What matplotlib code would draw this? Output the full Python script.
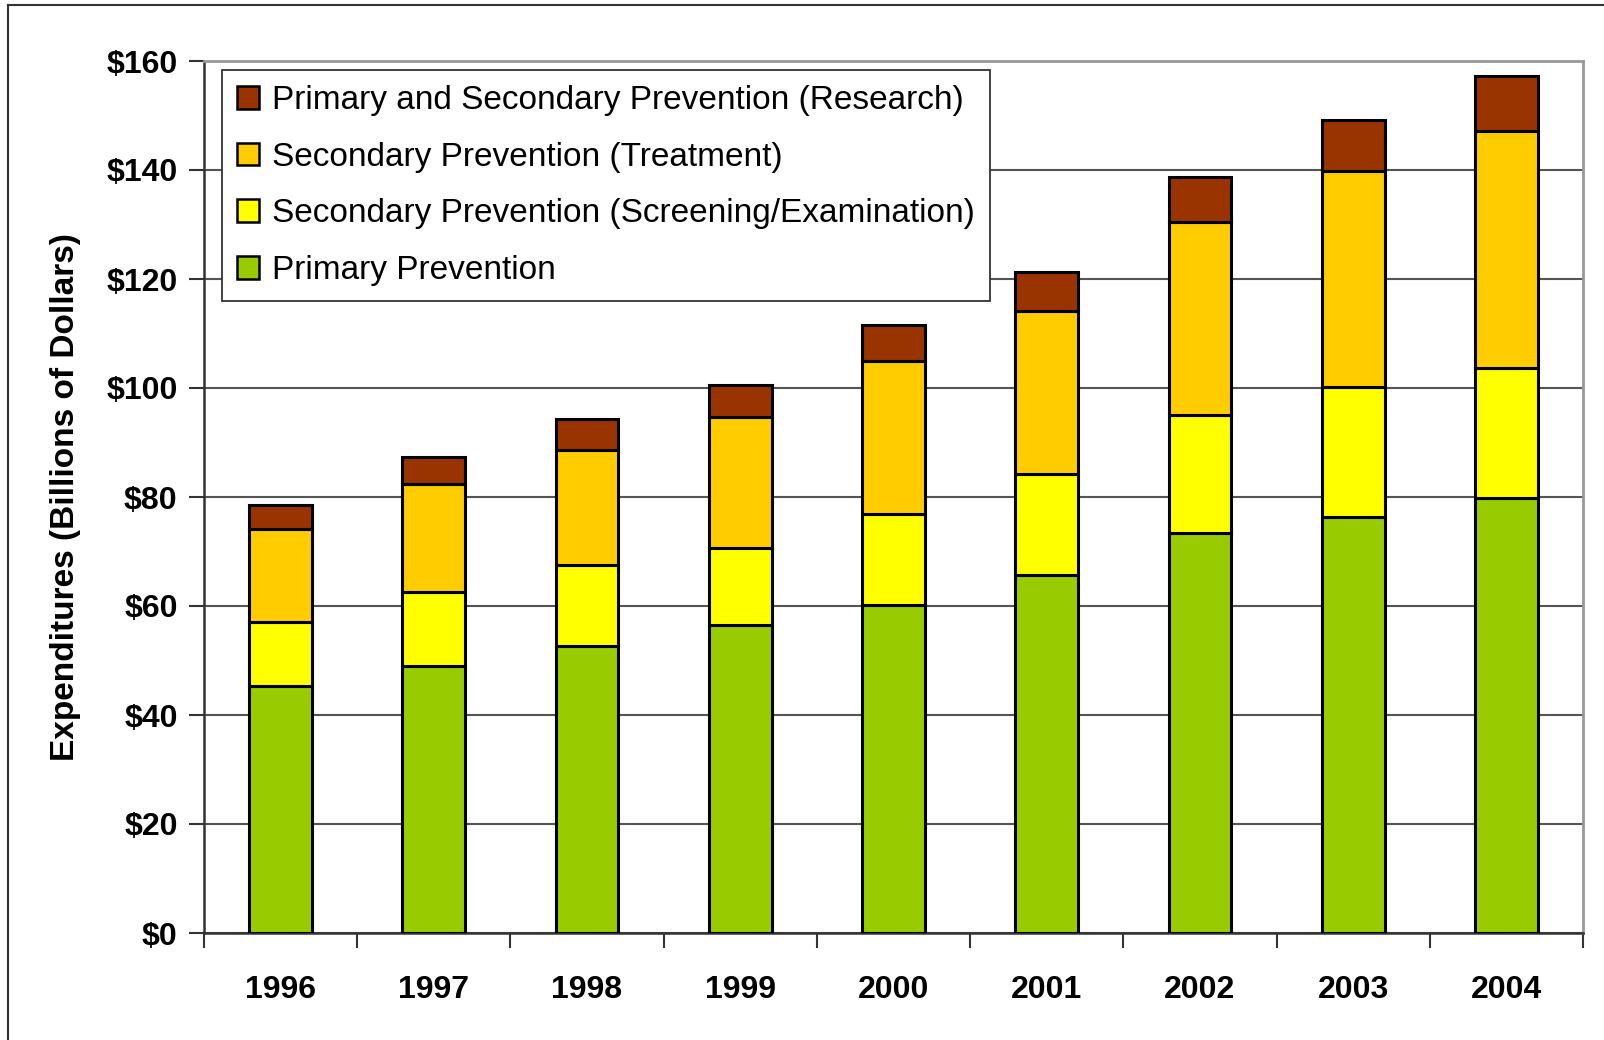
import matplotlib
matplotlib.use("Agg")
import matplotlib.pyplot as plt
from matplotlib.patches import Patch
from matplotlib.lines import Line2D
import numpy as np

years = ["1996", "1997", "1998", "1999", "2000", "2001", "2002", "2003", "2004"]
primary = [45.4, 49.0, 52.7, 56.5, 60.2, 65.7, 73.4, 76.4, 79.9]
screening = [11.6, 13.5, 14.8, 14.2, 16.7, 18.5, 21.7, 23.8, 23.7]
treatment = [17.1, 19.9, 21.1, 24.0, 28.0, 29.9, 35.3, 39.6, 43.5]
research = [4.5, 5.0, 5.8, 5.9, 6.7, 7.1, 8.4, 9.4, 10.1]

series_labels = [
    "Primary Prevention",
    "Secondary Prevention (Screening/Examination)",
    "Secondary Prevention (Treatment)",
    "Primary and Secondary Prevention (Research)",
]
colors = ["#99CC00", "#FFFF00", "#FFCC00", "#993300"]
yticks = [0, 20, 40, 60, 80, 100, 120, 140, 160]
ytick_labels = ["$0", "$20", "$40", "$60", "$80", "$100", "$120", "$140", "$160"]

plt.rcParams["font.family"] = ["Liberation Sans", "DejaVu Sans"]

fig = plt.figure(figsize=(16.04, 10.40), dpi=100)
ax = fig.add_axes([204 / 1604, 1 - 933 / 1040, (1583 - 204) / 1604, (933 - 61) / 1040])

x = np.arange(len(years))
data = [primary, screening, treatment, research]
bottom = np.zeros(len(years))
for vals, c, lab in zip(data, colors, series_labels):
    ax.bar(x, vals, width=0.41, bottom=bottom, color=c, edgecolor="black",
           linewidth=2.2, label=lab, zorder=3)
    bottom = bottom + np.array(vals)

ax.set_xlim(-0.5, len(years) - 0.5)
ax.set_ylim(0, 160)
ax.set_yticks(yticks)
ax.set_yticklabels(ytick_labels, fontsize=23, fontweight="bold")
ax.yaxis.grid(True, color="#555555", linewidth=1.5, zorder=0)
ax.set_axisbelow(True)

# x ticks between categories, labels at centers
ax.set_xticks(np.arange(-0.5, len(years), 1.0))
ax.set_xticklabels([])
ax.set_xticks(x, minor=True)
ax.set_xticklabels(years, minor=True, fontsize=23, fontweight="bold")
ax.tick_params(axis="x", which="major", direction="out", length=11, width=1.5, color="#333333")
ax.tick_params(axis="x", which="minor", length=0, pad=30)
ax.tick_params(axis="y", direction="out", length=11, width=1.5, color="#333333", pad=8)

ax.spines["left"].set_color("#333333")
ax.spines["left"].set_linewidth(1.8)
ax.spines["bottom"].set_color("#333333")
ax.spines["bottom"].set_linewidth(1.8)
ax.spines["top"].set_color("#999999")
ax.spines["top"].set_linewidth(2)
ax.spines["right"].set_color("#999999")
ax.spines["right"].set_linewidth(2)

ax.set_ylabel("Expenditures (Billions of Dollars)", fontsize=24, fontweight="bold", labelpad=18)

handles = [Patch(facecolor=c, edgecolor="black", linewidth=1.8) for c in colors][::-1]
leg = ax.legend(handles, series_labels[::-1], loc="upper left",
                bbox_to_anchor=((222 - 204) / (1583 - 204), 1 - (70 - 61) / (933 - 61)),
                fontsize=24, frameon=True, fancybox=False, edgecolor="#333333",
                framealpha=1, handlelength=0.66, handleheight=0.66, handletextpad=0.4,
                labelspacing=0.77, borderpad=0.45, borderaxespad=0)
leg.get_frame().set_linewidth(1.3)
leg.set_zorder(5)

# outer border lines (left and top)
fig.add_artist(Line2D([8 / 1604, 8 / 1604], [0, 1 - 5 / 1040], color="#333333", linewidth=1.5))
fig.add_artist(Line2D([8 / 1604, 1], [1 - 5 / 1040, 1 - 5 / 1040], color="#333333", linewidth=1.5))

fig.savefig("out.png", dpi=100, facecolor="white")
